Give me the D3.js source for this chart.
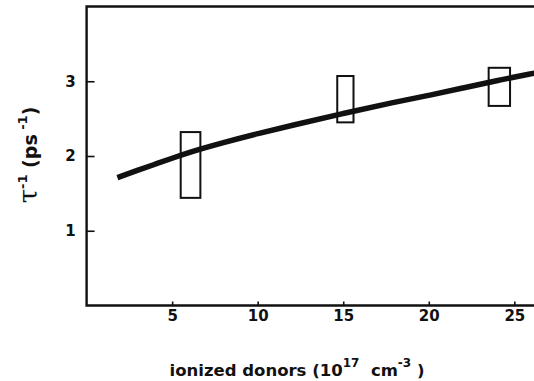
<!DOCTYPE html>
<html>
<head>
<meta charset="utf-8">
<script src="https://cdn.jsdelivr.net/npm/d3@7"></script>
<style>
  body { margin: 0; background: #fff; }
  svg text { font-family: "DejaVu Sans", "Liberation Sans", Arial, sans-serif; fill: #111; }
</style>
</head>
<body>
<div id="chart"></div>
<script>
// values
var xTicks = [5, 10, 15, 20, 25];
var yTicks = [1, 2, 3];

// fitted curve (scattering rate vs ionized donors)
var curveX = [1.8, 3, 4, 5, 6, 8, 10, 12, 15, 18, 20, 22, 24, 26.2];
var curveY = [1.71, 1.81, 1.89, 1.97, 2.05, 2.18, 2.3, 2.41, 2.57, 2.72, 2.81, 2.91, 3.01, 3.11];

// measured ranges drawn as open boxes
var boxXLo = [5.5, 14.65, 23.5];
var boxXHi = [6.65, 15.6, 24.75];
var boxYLo = [1.44, 2.45, 2.67];
var boxYHi = [2.32, 3.07, 3.18];

function drawChart(chartID) {
    var width = 534,
        height = 381;

    var x = d3.scaleLinear()
        .domain([0, 26.15])
        .range([86.6, 534]);

    var y = d3.scaleLinear()
        .domain([0, 4])
        .range([305.5, 6.5]);

    var svg = d3.select(chartID).append("svg")
        .attr("width", width)
        .attr("height", height);

    // frame: top, left, bottom (right side is cut off in the original)
    svg.append("path")
        .attr("d", "M" + width + "," + y(4) + "H" + x(0) + "V" + y(0) + "H" + width)
        .attr("fill", "none")
        .attr("stroke", "#111")
        .attr("stroke-width", 2.4);

    var xAxis = svg.append("g")
        .attr("transform", "translate(0," + y(0) + ")")
        .call(d3.axisBottom(x).tickValues(xTicks).tickFormat(d3.format("d"))
            .tickSizeInner(-4).tickSizeOuter(0).tickPadding(5));

    var yAxis = svg.append("g")
        .attr("transform", "translate(" + x(0) + ",0)")
        .call(d3.axisLeft(y).tickValues(yTicks).tickFormat(d3.format("d"))
            .tickSizeInner(-8).tickSizeOuter(0).tickPadding(11));

    [xAxis, yAxis].forEach(function(g) {
        g.select(".domain").remove();
        g.selectAll(".tick line").attr("stroke", "#111").attr("stroke-width", 1.6);
        g.selectAll(".tick text")
            .attr("fill", "#111")
            .style("font-family", "DejaVu Sans, sans-serif")
            .style("font-size", "15px")
            .style("font-weight", "bold");
    });

    // boxes
    svg.selectAll("rect.box")
        .data(boxXLo)
        .enter().append("rect")
        .attr("class", "box")
        .attr("x", function(d, i) { return x(boxXLo[i]); })
        .attr("y", function(d, i) { return y(boxYHi[i]); })
        .attr("width", function(d, i) { return x(boxXHi[i]) - x(boxXLo[i]); })
        .attr("height", function(d, i) { return y(boxYLo[i]) - y(boxYHi[i]); })
        .attr("fill", "none")
        .attr("stroke", "#111")
        .attr("stroke-width", 2);

    // curve
    var line = d3.line()
        .x(function(d) { return x(d[0]); })
        .y(function(d) { return y(d[1]); })
        .curve(d3.curveBasis);

    svg.append("path")
        .datum(d3.zip(curveX, curveY))
        .attr("d", line)
        .attr("fill", "none")
        .attr("stroke", "#111")
        .attr("stroke-width", 5.5);

    // x label
    var xl = svg.append("text")
        .attr("x", 297)
        .attr("y", 376)
        .attr("text-anchor", "middle")
        .style("font-size", "16.5px")
        .style("font-weight", "bold");
    xl.append("tspan").text("ionized donors (10");
    xl.append("tspan").attr("dy", -9).style("font-size", "12px").text("17");
    xl.append("tspan").attr("dy", 9).text("\u00a0 cm");
    xl.append("tspan").attr("dy", -9).style("font-size", "12px").text("-3");
    xl.append("tspan").attr("dy", 9).text("\u00a0)");

    // y label
    var yl = svg.append("text")
        .attr("transform", "translate(37,155)rotate(-90)")
        .attr("text-anchor", "middle")
        .style("font-size", "19px")
        .style("font-weight", "bold");
    yl.append("tspan").style("font-size", "26px").style("font-weight", "normal")
        .style("font-family", "DejaVu Serif, serif").text("\u03c4");
    yl.append("tspan").attr("dy", -10).style("font-size", "13px").text("-1");
    yl.append("tspan").attr("dy", 10).text(" (ps");
    yl.append("tspan").attr("dy", -10).style("font-size", "13px").text(" -1");
    yl.append("tspan").attr("dy", 10).text(")");
}

drawChart("#chart");
</script>
</body>
</html>
